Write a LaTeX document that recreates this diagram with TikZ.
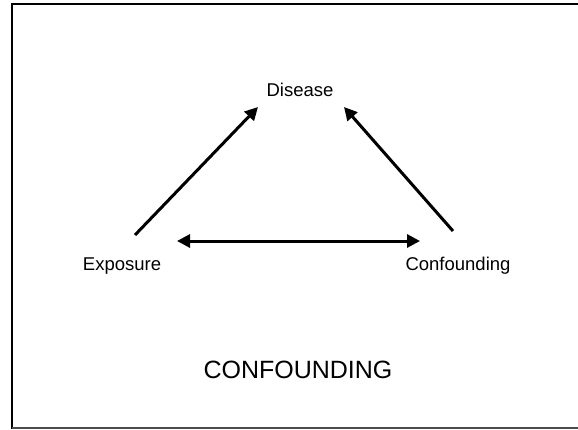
\documentclass[tikz,border=0pt]{standalone}
\usepackage{fontspec}
\setmainfont{Liberation Sans}
\usetikzlibrary{arrows.meta}
\begin{document}
\begin{tikzpicture}[x=1pt,y=-1pt,
  lbl/.style={inner sep=0pt,anchor=base,font=\fontsize{18.5}{20}\selectfont},
  ttl/.style={inner sep=0pt,anchor=base,font=\fontsize{25}{28}\selectfont},
  arr/.style={line width=3pt,-{Triangle[length=13pt,width=13pt]}},
  frame/.style={line width=1.8pt,draw=black}]
\useasboundingbox (0,0) rectangle (578,429);
\draw[frame] (12,429) -- (12,4) -- (578,4);
\draw[line width=1.5pt,draw=black!70] (12,428) -- (578,428);
\node[lbl] (dis) at (300,96) {Disease};
\node[lbl] (exp) at (122,270) {Exposure};
\node[lbl] (con) at (458,270) {Confounding};
\node[ttl] (title) at (298,378) {CONFOUNDING};
\coordinate (e1) at (135,235);
\coordinate (d1) at (258,107);
\coordinate (c1) at (453,231);
\coordinate (d2) at (344,107);
\coordinate (h1) at (177,241);
\coordinate (h2) at (420,241);
\draw[arr] (e1) -- (d1);
\draw[arr] (c1) -- (d2);
\draw[line width=3pt,{Triangle[length=13pt,width=13pt]}-{Triangle[length=13pt,width=13pt]}] (h1) -- (h2);
\end{tikzpicture}
\end{document}
